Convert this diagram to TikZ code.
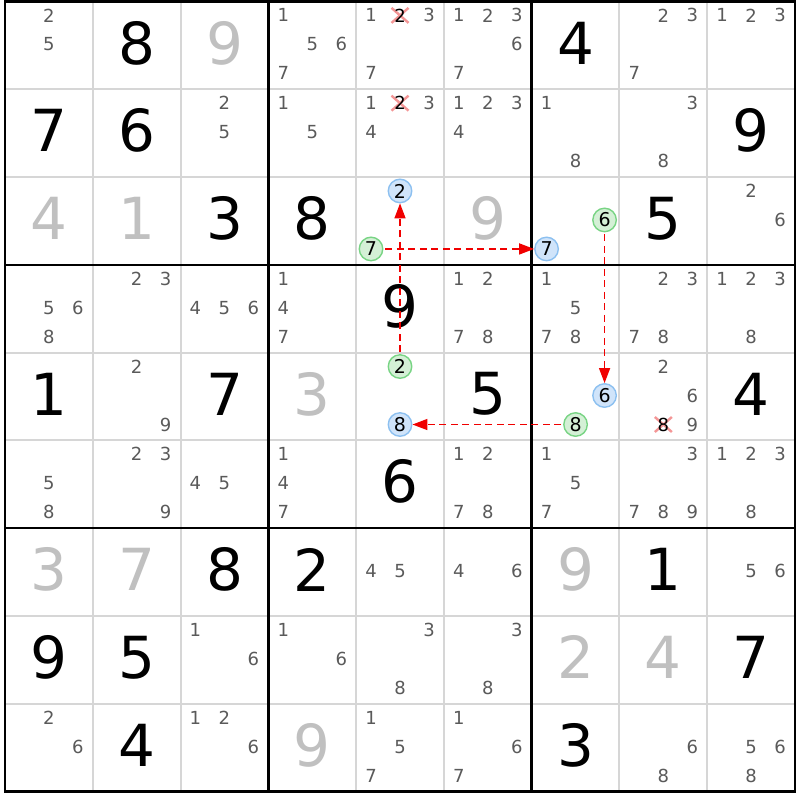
\documentclass[tikz,border=0pt]{standalone}
\usepackage{fontspec}
\setmainfont{DejaVu Sans}
\usetikzlibrary{arrows.meta}
\definecolor{candc}{RGB}{90,90,90}
\definecolor{solvc}{RGB}{192,192,192}
\definecolor{thinc}{RGB}{214,214,214}
\definecolor{bluefill}{RGB}{208,228,250}
\definecolor{blueline}{RGB}{140,192,240}
\definecolor{greenfill}{RGB}{212,240,214}
\definecolor{greenline}{RGB}{120,212,132}
\definecolor{elimc}{RGB}{244,150,150}
\definecolor{chainc}{RGB}{240,0,0}
\pgfdeclarelayer{under}
\pgfsetlayers{under,main}
\newcommand\SGiv[4][givenbig]{\node[#1] (g#2#3) at ({5+(#3-0.5)*87.78},{1.5+(#2-0.5)*87.78-2.5}) {#4};}
\newcommand\SSol[3]{\SGiv[solvedbig]{#1}{#2}{#3}}
\newcommand\SCandS[4]{\pgfmathtruncatemacro\cc{mod(#3-1,3)}\pgfmathtruncatemacro\rr{int((#3-1)/3)}\node[#4] (c#1#2#3) at ({5+(#2-0.5)*87.78+(\cc-1)*29},{1.5+(#1-0.5)*87.78+(\rr-1)*29-1}) {#3};}
\newcommand\SCand[3]{\foreach \k in {#3}{\SCandS{#1}{#2}{\k}{cand}}}
\tikzset{
  givenbig/.style={font=\fontsize{58}{58}\selectfont, text=black, inner sep=0pt},
  solvedbig/.style={givenbig, text=solvc},
  cand/.style={font=\fontsize{18}{18}\selectfont, text=candc, inner sep=0pt},
  elimcand/.style={cand, text=black},
  circcand/.style={cand, font=\fontsize{19}{19}\selectfont, text=black, circle, minimum size=23.5pt, line width=1.4pt},
  bluecand/.style={circcand, draw=blueline, fill=bluefill},
  greencand/.style={circcand, draw=greenline, fill=greenfill},
  thingrid/.style={draw=thinc, line width=2pt},
  thickgrid/.style={draw=black, line width=2.6pt, line cap=rect},
  elimx/.style={draw=elimc, line width=2.4pt},
  chainarrow/.style={draw=chainc, line width=1.5pt, dash pattern=on 7pt off 4.5pt, shorten <=2pt, -{Triangle[length=15pt,width=11pt]}}
}
\begin{document}
\begin{tikzpicture}[x=1pt,y=-1pt]
\useasboundingbox (0,0) rectangle (800,800);
\begin{pgfonlayer}{under}
\fill[white] (0,0) rectangle (800,800);
\end{pgfonlayer}
% grid
\foreach \i in {1,2,4,5,7,8}{
  \draw[thingrid] ({5+\i*87.78},1.5) -- ({5+\i*87.78},791.5);
  \draw[thingrid] (5,{1.5+\i*87.78}) -- (795,{1.5+\i*87.78});
}
\foreach \i in {0,3,6,9}{
  \draw[thickgrid] ({5+\i*87.78},1.5) -- ({5+\i*87.78},791.5);
  \draw[thickgrid] (5,{1.5+\i*87.78}) -- (795,{1.5+\i*87.78});
}
% row 1
\SCand{1}{1}{2,5}
\SGiv{1}{2}{8}
\SSol{1}{3}{9}
\SCand{1}{4}{1,5,6,7}
\SCand{1}{5}{1,3,7}
\SCandS{1}{5}{2}{elimcand}
\SCand{1}{6}{1,2,3,6,7}
\SGiv{1}{7}{4}
\SCand{1}{8}{2,3,7}
\SCand{1}{9}{1,2,3}
% row 2
\SGiv{2}{1}{7}
\SGiv{2}{2}{6}
\SCand{2}{3}{2,5}
\SCand{2}{4}{1,5}
\SCand{2}{5}{1,3,4}
\SCandS{2}{5}{2}{elimcand}
\SCand{2}{6}{1,2,3,4}
\SCand{2}{7}{1,8}
\SCand{2}{8}{3,8}
\SGiv{2}{9}{9}
% row 3
\SSol{3}{1}{4}
\SSol{3}{2}{1}
\SGiv{3}{3}{3}
\SGiv{3}{4}{8}
\SCandS{3}{5}{2}{bluecand}
\SCandS{3}{5}{7}{greencand}
\SSol{3}{6}{9}
\SCandS{3}{7}{6}{greencand}
\SCandS{3}{7}{7}{bluecand}
\SGiv{3}{8}{5}
\SCand{3}{9}{2,6}
% row 4
\SCand{4}{1}{5,6,8}
\SCand{4}{2}{2,3}
\SCand{4}{3}{4,5,6}
\SCand{4}{4}{1,4,7}
\SGiv{4}{5}{9}
\SCand{4}{6}{1,2,7,8}
\SCand{4}{7}{1,5,7,8}
\SCand{4}{8}{2,3,7,8}
\SCand{4}{9}{1,2,3,8}
% row 5
\SGiv{5}{1}{1}
\SCand{5}{2}{2,9}
\SGiv{5}{3}{7}
\SSol{5}{4}{3}
\SCandS{5}{5}{2}{greencand}
\SCandS{5}{5}{8}{bluecand}
\SGiv{5}{6}{5}
\SCandS{5}{7}{6}{bluecand}
\SCandS{5}{7}{8}{greencand}
\SCand{5}{8}{2,6,9}
\SCandS{5}{8}{8}{elimcand}
\SGiv{5}{9}{4}
% row 6
\SCand{6}{1}{5,8}
\SCand{6}{2}{2,3,9}
\SCand{6}{3}{4,5}
\SCand{6}{4}{1,4,7}
\SGiv{6}{5}{6}
\SCand{6}{6}{1,2,7,8}
\SCand{6}{7}{1,5,7}
\SCand{6}{8}{3,7,8,9}
\SCand{6}{9}{1,2,3,8}
% row 7
\SSol{7}{1}{3}
\SSol{7}{2}{7}
\SGiv{7}{3}{8}
\SGiv{7}{4}{2}
\SCand{7}{5}{4,5}
\SCand{7}{6}{4,6}
\SSol{7}{7}{9}
\SGiv{7}{8}{1}
\SCand{7}{9}{5,6}
% row 8
\SGiv{8}{1}{9}
\SGiv{8}{2}{5}
\SCand{8}{3}{1,6}
\SCand{8}{4}{1,6}
\SCand{8}{5}{3,8}
\SCand{8}{6}{3,8}
\SSol{8}{7}{2}
\SSol{8}{8}{4}
\SGiv{8}{9}{7}
% row 9
\SCand{9}{1}{2,6}
\SGiv{9}{2}{4}
\SCand{9}{3}{1,2,6}
\SSol{9}{4}{9}
\SCand{9}{5}{1,5,7}
\SCand{9}{6}{1,6,7}
\SGiv{9}{7}{3}
\SCand{9}{8}{6,8}
\SCand{9}{9}{5,6,8}
% eliminations
\begin{pgfonlayer}{under}
\foreach \n in {c152,c252,c588}{
  \draw[elimx] ([shift={(-8.5,-7.5)}]\n.center) -- ([shift={(8.5,7.5)}]\n.center)
               ([shift={(-8.5,7.5)}]\n.center) -- ([shift={(8.5,-7.5)}]\n.center);
}
\end{pgfonlayer}
% chain
\draw[chainarrow] (c357) -- (c377);
\draw[chainarrow] (c376) -- (c576);
\draw[chainarrow] (c578) -- (c558);
\draw[chainarrow] (c552) -- (c352);
\end{tikzpicture}
\end{document}
